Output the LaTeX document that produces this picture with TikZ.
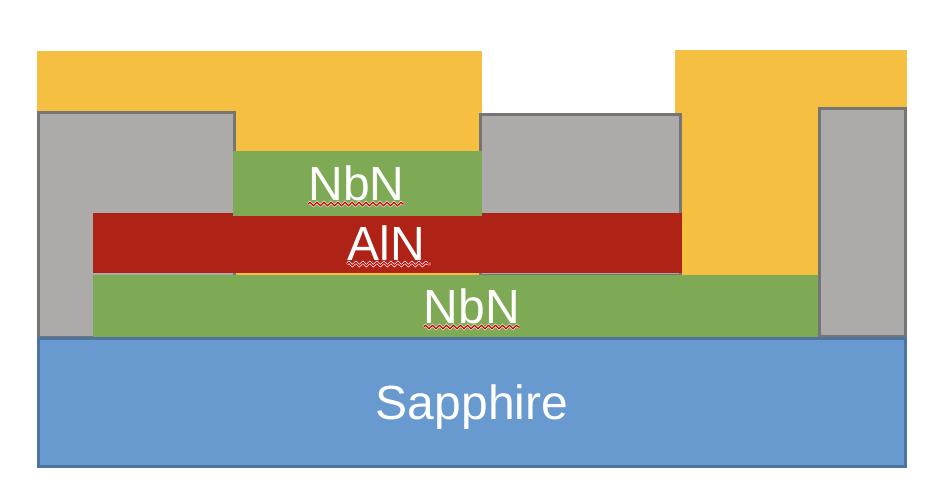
\documentclass[tikz,border=0pt]{standalone}
\usepackage{fontspec}
\setmainfont{Liberation Sans}
\usepackage{xcolor}
\usetikzlibrary{calc,decorations.pathmorphing}
\definecolor{metal}{HTML}{F5BF41}
\definecolor{oxide}{HTML}{ADABA9}
\definecolor{oxideline}{HTML}{757575}
\definecolor{barrier}{HTML}{AF2317}
\definecolor{nitride}{HTML}{7FAA55}
\definecolor{substrate}{HTML}{6899CF}
\definecolor{substrateline}{HTML}{4F74A0}
\tikzset{%
	metallayer/.style   = {fill=metal},
	oxidelayer/.style   = {fill=oxide, draw=oxideline, line width=3pt},
	barrierlayer/.style = {fill=barrier},
	nitridelayer/.style = {fill=nitride},
	waferlayer/.style   = {fill=substrate, draw=substrateline, line width=3pt},
	layerlabel/.style   = {text=white, inner sep=0pt, anchor=base, font=\fontsize{48}{48}\selectfont},
	squiggle/.style     = {draw=red!80!black, line width=1.2pt, decorate, decoration={zigzag,segment length=7pt,amplitude=1.7pt},
		preaction={draw=white,line width=2.4pt}},
}
\begin{document}
\begin{tikzpicture}[x=1pt,y=-1pt]
	\useasboundingbox (0,0) rectangle (948,496);
	\path[metallayer] (37,51) rectangle (482,275);  % left contact
	\path[metallayer] (675,50) rectangle (907,275);  % right contact
	\path[oxidelayer] (38.5,112.5) rectangle (234.5,337);
	\path[oxidelayer] (480.5,114.5) rectangle (680.5,275);
	\path[barrierlayer] (93,213) rectangle (682,273);
	\path[nitridelayer] (233,151) rectangle (482,216);
	\path[nitridelayer] (93,275) rectangle (818,337);
	\path[oxidelayer] (819.5,108.5) rectangle (905.5,336.5);
	\path[waferlayer] (38.5,338.5) rectangle (905.5,466.5);
	\node[layerlabel] (nbntop) at (356.5,200) {NbN};
	\node[layerlabel] (aln) at (386,260) {AlN};
	\node[layerlabel] (nbnbottom) at (472,323) {NbN};
	\node[layerlabel] (sapphire) at (472,419) {Sapphire};
	\draw[squiggle] ($(nbntop.base west)+(0,4)$) -- ($(nbntop.base east)+(0,4)$);
	\draw[squiggle] ($(aln.base west)+(0,4)$) -- ($(aln.base east)+(6,4)$);
	\draw[squiggle] ($(nbnbottom.base west)+(0,4)$) -- ($(nbnbottom.base east)+(0,4)$);
\end{tikzpicture}
\end{document}
